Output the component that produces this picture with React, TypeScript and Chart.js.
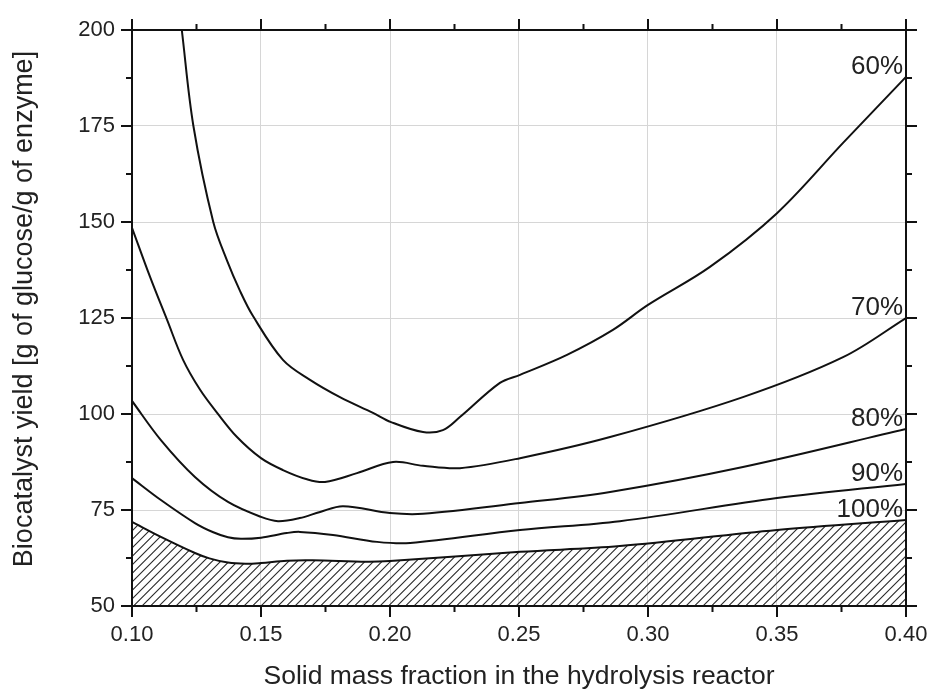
import React, { useEffect, useRef } from 'react';
import { Chart, registerables } from 'chart.js';

Chart.register(...registerables);

const FONT = "'Liberation Sans', Arial, Helvetica, sans-serif";

// axis ranges and ticks
const X_RANGE = [0.1, 0.4];
const Y_RANGE = [50, 200];
const X_TICKS = [0.1, 0.15, 0.2, 0.25, 0.3, 0.35, 0.4];
const X_TICK_LABELS = ['0.10', '0.15', '0.20', '0.25', '0.30', '0.35', '0.40'];
const X_MINOR = [0.125, 0.175, 0.225, 0.275, 0.325, 0.375];
const Y_TICKS = [50, 75, 100, 125, 150, 175, 200];
const Y_TICK_LABELS = ['50', '75', '100', '125', '150', '175', '200'];
const Y_MINOR = [62.5, 87.5, 112.5, 137.5, 162.5, 187.5];

const X_TITLE = 'Solid mass fraction in the hydrolysis reactor';
const Y_TITLE = 'Biocatalyst yield [g of glucose/g of enzyme]';

// series
const X60 = [0.1193, 0.1238, 0.1315, 0.1368, 0.1419, 0.1469, 0.1585, 0.169, 0.1806, 0.1934, 0.2004, 0.2128, 0.2205, 0.2271, 0.2426, 0.2504, 0.2686, 0.2864, 0.3, 0.324, 0.35, 0.3756, 0.4];
const Y60 = [200, 175, 150, 140, 132, 125.5, 114.1, 108.9, 104.4, 100.3, 97.9, 95.3, 95.8, 99.2, 108.1, 110.2, 115.4, 121.9, 128.4, 138.3, 152.3, 170.6, 187.8];

const X70 = [0.1, 0.107, 0.1136, 0.1198, 0.1264, 0.133, 0.1407, 0.15, 0.1585, 0.1678, 0.1748, 0.1872, 0.2012, 0.2128, 0.2271, 0.2504, 0.2853, 0.3368, 0.3756, 0.4];
const Y70 = [148.5, 135.7, 124.5, 114.1, 106.3, 100.3, 94.0, 88.5, 85.4, 83.0, 82.3, 84.6, 87.5, 86.5, 85.9, 88.5, 94.0, 104.4, 114.8, 125.0];

const X80 = [0.1, 0.1112, 0.1244, 0.1372, 0.15, 0.1566, 0.165, 0.1729, 0.1818, 0.2, 0.2128, 0.2504, 0.2853, 0.3368, 0.4];
const Y80 = [103.4, 93.2, 83.6, 77.1, 73.2, 72.1, 72.9, 74.5, 76.0, 74.2, 74.0, 76.8, 79.7, 86.2, 96.1];

const X90 = [0.1, 0.1112, 0.1244, 0.1315, 0.1372, 0.1422, 0.15, 0.16, 0.1651, 0.1779, 0.195, 0.2078, 0.2504, 0.2891, 0.35, 0.4];
const Y90 = [83.3, 77.6, 71.6, 69.2, 67.9, 67.5, 67.8, 69.0, 69.3, 68.5, 66.7, 66.4, 69.8, 72.1, 78.1, 81.8];

const X100 = [0.1, 0.1112, 0.1244, 0.13, 0.1372, 0.144, 0.15, 0.16, 0.17, 0.191, 0.2, 0.2504, 0.2891, 0.35, 0.4];
const Y100 = [71.9, 68.0, 63.8, 62.4, 61.3, 61.0, 61.2, 61.8, 61.9, 61.5, 61.7, 64.1, 65.6, 69.8, 72.4];

const SERIES_LABELS = ['60%', '70%', '80%', '90%', '100%'];
const SERIES_X = [X60, X70, X80, X90, X100];
const SERIES_Y = [Y60, Y70, Y80, Y90, Y100];

function makeHatch(): CanvasPattern | string {
  const S = 17;
  const step = 8.5;
  const pc = document.createElement('canvas');
  pc.width = S;
  pc.height = S;
  const g = pc.getContext('2d');
  if (!g) return 'rgba(0,0,0,0.3)';
  g.strokeStyle = '#2a2a2a';
  g.lineWidth = 1.1;
  g.beginPath();
  for (let c = 0; c <= 2 * S; c += step) {
    g.moveTo(c + 1, -1);
    g.lineTo(c - S - 1, S + 1);
  }
  g.stroke();
  const p = g.createPattern(pc, 'repeat');
  return p || 'rgba(0,0,0,0.3)';
}

const framePlugin = {
  id: 'frameTicks',
  afterDatasetsDraw(chart: any) {
    const { ctx, chartArea } = chart;
    const xs = chart.scales.x;
    const ys = chart.scales.y;
    const { left, right, top, bottom } = chartArea;
    ctx.save();
    // curve labels
    ctx.font = `26px ${FONT}`;
    ctx.fillStyle = '#222';
    ctx.textAlign = 'right';
    ctx.textBaseline = 'alphabetic';
    SERIES_LABELS.forEach((lab, i) => {
      const yv = SERIES_Y[i][SERIES_Y[i].length - 1];
      ctx.fillText(lab, right - 3, ys.getPixelForValue(yv) - 3);
    });
    // y title
    ctx.save();
    ctx.font = `27px ${FONT}`;
    ctx.textAlign = 'center';
    ctx.textBaseline = 'middle';
    ctx.translate(25, (top + bottom) / 2 - 9);
    ctx.rotate(-Math.PI / 2);
    ctx.fillText(Y_TITLE, 0, 0);
    ctx.restore();
    // frame
    ctx.strokeStyle = '#111';
    ctx.lineWidth = 2;
    ctx.strokeRect(left, top, right - left, bottom - top);
    // ticks
    const MAJ = 11;
    const MIN = 6;
    ctx.beginPath();
    const xt = (v: number, len: number) => {
      const px = xs.getPixelForValue(v);
      ctx.moveTo(px, bottom);
      ctx.lineTo(px, bottom + len);
      ctx.moveTo(px, top);
      ctx.lineTo(px, top - len);
    };
    const yt = (v: number, len: number) => {
      const py = ys.getPixelForValue(v);
      ctx.moveTo(left, py);
      ctx.lineTo(left - len, py);
      ctx.moveTo(right, py);
      ctx.lineTo(right + len, py);
    };
    X_TICKS.forEach((v) => xt(v, MAJ));
    X_MINOR.forEach((v) => xt(v, MIN));
    Y_TICKS.forEach((v) => yt(v, MAJ));
    Y_MINOR.forEach((v) => yt(v, MIN));
    ctx.stroke();
    ctx.restore();
  },
};

export default function App() {
  const ref = useRef<HTMLCanvasElement | null>(null);

  useEffect(() => {
    const canvas = ref.current;
    if (!canvas) return;
    const hatch = makeHatch();
    const datasets = SERIES_LABELS.map((lab, i) => ({
      label: lab,
      data: SERIES_X[i].map((x, j) => ({ x, y: SERIES_Y[i][j] })),
      borderColor: '#111',
      borderWidth: 2,
      pointRadius: 0,
      tension: 0.35,
      fill: i === SERIES_LABELS.length - 1 ? 'start' : false,
      backgroundColor: i === SERIES_LABELS.length - 1 ? hatch : 'transparent',
    }));

    const chart = new Chart(canvas, {
      type: 'line',
      data: { datasets },
      options: {
        responsive: false,
        animation: false,
        devicePixelRatio: 1,
        layout: { padding: { left: 0, top: 30, right: 24, bottom: 0 } },
        plugins: { legend: { display: false }, tooltip: { enabled: false } },
        scales: {
          x: {
            type: 'linear',
            min: X_RANGE[0],
            max: X_RANGE[1],
            afterBuildTicks: (s: any) => {
              s.ticks = X_TICKS.map((v) => ({ value: v }));
            },
            afterFit: (s: any) => {
              s.height = 84;
              s.paddingLeft = 0;
              s.paddingRight = 0;
            },
            ticks: {
              autoSkip: false,
              maxRotation: 0,
              padding: 16,
              color: '#222',
              font: { family: FONT, size: 22 },
              callback: (_v: any, i: number) => X_TICK_LABELS[i],
            },
            grid: { color: '#d6d6d6', lineWidth: 1, drawTicks: false },
            border: { display: false },
            title: {
              display: true,
              text: X_TITLE,
              color: '#222',
              font: { family: FONT, size: 26.5, lineHeight: 1 },
              padding: { top: 0, bottom: 0 },
            },
          },
          y: {
            type: 'linear',
            min: Y_RANGE[0],
            max: Y_RANGE[1],
            afterBuildTicks: (s: any) => {
              s.ticks = Y_TICKS.map((v) => ({ value: v }));
            },
            afterFit: (s: any) => {
              s.width = 132;
              s.paddingTop = 0;
              s.paddingBottom = 0;
            },
            ticks: {
              autoSkip: false,
              padding: 17,
              color: '#222',
              font: { family: FONT, size: 22 },
              callback: (_v: any, i: number) => Y_TICK_LABELS[i],
            },
            grid: { color: '#d6d6d6', lineWidth: 1, drawTicks: false },
            border: { display: false },
            title: { display: false },
          },
        },
      },
      plugins: [framePlugin],
    } as any);

    return () => chart.destroy();
  }, []);

  return (
    <div style={{ position: 'absolute', left: 0, top: 0, width: 930, height: 690, background: '#fff' }}>
      <canvas ref={ref} width={930} height={690} style={{ display: 'block' }} />
    </div>
  );
}
